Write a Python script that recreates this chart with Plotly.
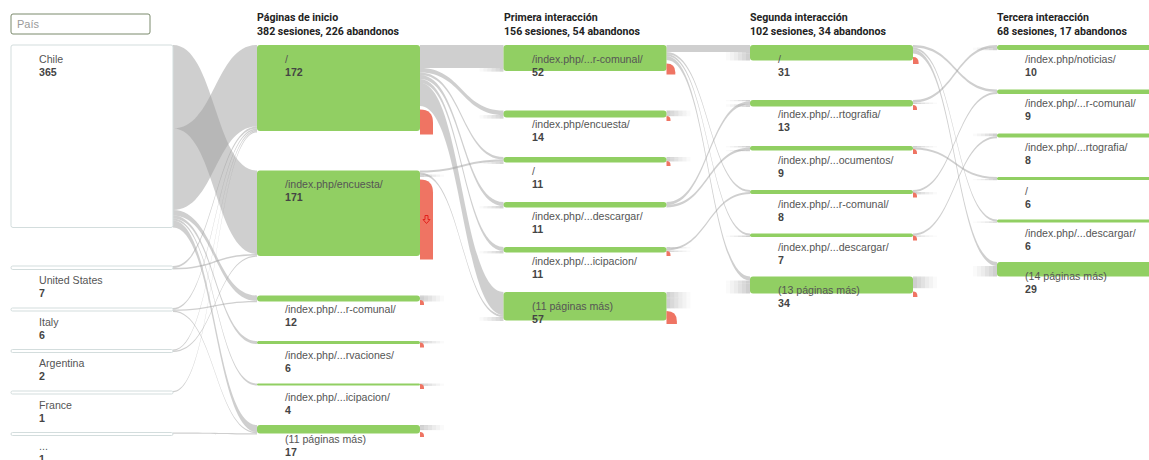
import plotly.graph_objects as go

# ---- data ----
col_titles = ["Páginas de inicio", "Primera interacción", "Segunda interacción", "Tercera interacción"]

country_names = ["Chile", "United States", "Italy", "Argentina", "France", "..."]
country_sessions = [365, 7, 6, 2, 1, 1]

start_pages = ["/", "/index.php/encuesta/", "/index.php/...r-comunal/", "/index.php/...rvaciones/",
               "/index.php/...icipacion/", "(11 páginas más)"]
start_sessions = [172, 171, 12, 6, 4, 17]
start_drops = [50, 160, 3, 2, 2, 9]

first_pages = ["/index.php/...r-comunal/", "/index.php/encuesta/", "/", "/index.php/...descargar/",
               "/index.php/...icipacion/", "(11 páginas más)"]
first_sessions = [52, 14, 11, 11, 11, 57]
first_drops = [22, 3, 2, 0, 1, 26]

second_pages = ["/", "/index.php/...rtografia/", "/index.php/...ocumentos/", "/index.php/...r-comunal/",
                "/index.php/...descargar/", "(13 páginas más)"]
second_sessions = [31, 13, 9, 8, 7, 34]
second_drops = [14, 5, 2, 1, 1, 11]

third_pages = ["/index.php/noticias/", "/index.php/...r-comunal/", "/index.php/...rtografia/", "/",
               "/index.php/...descargar/", "(14 páginas más)"]
third_sessions = [10, 9, 8, 6, 6, 29]
third_drops = [2, 3, 2, 1, 2, 7]

# links between consecutive columns (source index, target index, sessions)
links_0_src = [0, 0, 0, 0, 0, 0, 1, 1, 2, 2, 2, 3, 3, 4, 5]
links_0_tgt = [1, 0, 2, 3, 4, 5, 0, 1, 0, 2, 5, 0, 1, 0, 5]
links_0_val = [167, 163, 11, 6, 4, 14, 4, 3, 3, 1, 2, 1, 1, 1, 1]

links_1_src = [0, 0, 0, 0, 0, 0, 1, 1, 1, 1, 2, 2, 2, 2, 2, 3, 3, 4, 4, 5, 5, 5, 5]
links_1_tgt = [0, 1, 2, 3, 4, 5, 2, 5, 0, 1, 0, 5, 3, 4, 2, 5, 1, 4, 3, 0, 1, 2, 5]
links_1_val = [46, 9, 5, 8, 8, 46, 4, 4, 2, 1, 2, 2, 2, 2, 1, 2, 2, 1, 1, 2, 2, 1, 3]

links_2_src = [0, 0, 0, 0, 1, 1, 1, 1, 2, 2, 2, 3, 3, 4, 4, 4, 5, 5, 5, 5]
links_2_tgt = [0, 3, 4, 5, 0, 1, 4, 5, 0, 2, 5, 1, 2, 1, 3, 5, 0, 1, 2, 5]
links_2_val = [14, 4, 4, 8, 3, 2, 3, 3, 3, 3, 3, 6, 5, 3, 4, 3, 11, 2, 1, 17]

links_3_src = [0, 0, 0, 1, 1, 2, 2, 3, 3, 3, 4, 4, 5, 5]
links_3_tgt = [1, 4, 5, 0, 2, 0, 3, 1, 2, 4, 2, 3, 0, 5]
links_3_val = [5, 4, 8, 5, 3, 3, 4, 4, 1, 2, 4, 2, 2, 21]

# ---- layout ----
W, H = 1149, 460
SCALE = 0.5
TOP = 45
col_x = [11, 257, 503.5, 750, 997]
node_w = [162, 163, 163, 163, 163]
GREEN = "#91cf63"
RED = "#ef7463"
LINK = "rgba(160,160,160,0.5)"

labels = [country_names, start_pages, first_pages, second_pages, third_pages]
values = [country_sessions, start_sessions, first_sessions, second_sessions, third_sessions]
drops = [None, start_drops, first_drops, second_drops, third_drops]
links = [(links_0_src, links_0_tgt, links_0_val), (links_1_src, links_1_tgt, links_1_val),
         (links_2_src, links_2_tgt, links_2_val), (links_3_src, links_3_tgt, links_3_val)]


def stack(vals, minh, gap):
    tops, hs = [], []
    y = TOP
    for v in vals:
        h = max(v * SCALE, minh)
        tops.append(y)
        hs.append(h)
        y += h + gap
    return tops, hs


def rrect(x0, y0, x1, y1, r):
    r = min(r, (x1 - x0) / 2, (y1 - y0) / 2)
    return (f"M{x0 + r},{y0} L{x1 - r},{y0} Q{x1},{y0} {x1},{y0 + r} L{x1},{y1 - r} "
            f"Q{x1},{y1} {x1 - r},{y1} L{x0 + r},{y1} Q{x0},{y1} {x0},{y1 - r} "
            f"L{x0},{y0 + r} Q{x0},{y0} {x0 + r},{y0} Z")


layout_cols = []
for c in range(5):
    if c == 0:
        layout_cols.append(stack(values[c], 3, 38.5))
    else:
        layout_cols.append(stack(values[c], 2, 39.5))

shapes = []
annotations = []
fade = [0.5, 0.4, 0.3, 0.2, 0.12, 0.05]

# links
for s, (src, tgt, val) in enumerate(links):
    tops_s, _ = layout_cols[s]
    tops_t, _ = layout_cols[s + 1]
    xs = col_x[s] + node_w[s]
    xt = col_x[s + 1]
    xm = (xs + xt) / 2
    out_cur = list(tops_s)
    widths = [max(v * SCALE, 1.2) for v in val]
    src_pos = []
    for i in range(len(val)):
        src_pos.append(out_cur[src[i]])
        out_cur[src[i]] += widths[i]
    in_cur = list(tops_t)
    tgt_pos = [0] * len(val)
    for i in sorted(range(len(val)), key=lambda k: (src[k], k)):
        tgt_pos[i] = in_cur[tgt[i]]
        in_cur[tgt[i]] += widths[i]
    last = len(values[s]) - 1
    for i in range(len(val)):
        a0, a1 = src_pos[i], src_pos[i] + widths[i]
        b0, b1 = tgt_pos[i], tgt_pos[i] + widths[i]
        faded = s >= 1 and (val[i] <= 3 or src[i] == last)
        if faded:
            for k, op in enumerate(fade):
                shapes.append(dict(type="rect", xref="x", yref="y", x0=xs + k * 4, x1=xs + (k + 1) * 4,
                                   y0=a0, y1=a1, fillcolor=f"rgba(160,160,160,{op})", line_width=0))
                shapes.append(dict(type="rect", xref="x", yref="y", x0=xt - (k + 1) * 4, x1=xt - k * 4,
                                   y0=b0, y1=b1, fillcolor=f"rgba(160,160,160,{op})", line_width=0))
        else:
            path = (f"M{xs},{a0} C{xm},{a0} {xm},{b0} {xt},{b0} L{xt},{b1} "
                    f"C{xm},{b1} {xm},{a1} {xs},{a1} Z")
            shapes.append(dict(type="path", xref="x", yref="y", path=path, fillcolor=LINK, line_width=0))

# nodes
for c in range(5):
    tops, hs = layout_cols[c]
    x0 = col_x[c]
    x1 = x0 + node_w[c]
    for i, (t, h) in enumerate(zip(tops, hs)):
        if c == 0:
            shapes.append(dict(type="path", xref="x", yref="y", path=rrect(x0, t, x1, t + h, 2),
                               fillcolor="white", line=dict(color="#d3dddd", width=1)))
        else:
            shapes.append(dict(type="path", xref="x", yref="y", path=rrect(x0, t, x1, t + h, 3),
                               fillcolor=GREEN, line_width=0))
            d = drops[c][i]
            if d > 0:
                dh = max(d * SCALE, 5)
                dw = min(13, dh * 0.8)
                yb = t + h + 3.5
                yt = yb - dh
                r = min(dw, dh)
                path = (f"M{x1},{yb} L{x1},{yt} Q{x1 + dw},{yt} {x1 + dw},{yt + r} "
                        f"L{x1 + dw},{yb} Z")
                shapes.append(dict(type="path", xref="x", yref="y", path=path, fillcolor=RED, line_width=0))
                if dh > 40:
                    # small outlined down arrow on the big exit bar
                    cx, cy = x1 + dw / 2, (yt + yb) / 2
                    arrow = (f"M{cx - 1.5},{cy - 4} L{cx + 1.5},{cy - 4} L{cx + 1.5},{cy} L{cx + 3.5},{cy} "
                             f"L{cx},{cy + 4} L{cx - 3.5},{cy} L{cx - 1.5},{cy} Z")
                    shapes.append(dict(type="path", xref="x", yref="y", path=arrow, fillcolor="rgba(0,0,0,0)",
                                       line=dict(color="#e3211c", width=1)))
        lx = x0 + 26
        annotations.append(dict(x=lx, y=t + 13.5, xref="x", yref="y", text=labels[c][i], showarrow=False,
                                xanchor="left", yanchor="middle",
                                font=dict(family="Arial", size=10.6, color="#555555")))
        annotations.append(dict(x=lx, y=t + 26.5, xref="x", yref="y", text=f"<b>{values[c][i]}</b>",
                                showarrow=False, xanchor="left", yanchor="middle",
                                font=dict(family="Arial", size=10.6, color="#444444")))

# column headers
for c in range(1, 5):
    annotations.append(dict(x=col_x[c] - 2, y=17, xref="x", yref="y", text=f"<b>{col_titles[c - 1]}</b>",
                            showarrow=False, xanchor="left", yanchor="middle",
                            font=dict(family="Roboto", size=10.6, color="#222222")))
    sub = f"<b>{sum(values[c])} sesiones, {sum(drops[c])} abandonos</b>"
    annotations.append(dict(x=col_x[c] - 2, y=31, xref="x", yref="y", text=sub, showarrow=False,
                            xanchor="left", yanchor="middle",
                            font=dict(family="Roboto", size=10.6, color="#222222")))

# search box
shapes.append(dict(type="path", xref="x", yref="y", path=rrect(11, 14, 150, 34, 2),
                   fillcolor="white", line=dict(color="#7b8a6c", width=1)))
annotations.append(dict(x=15, y=24, xref="x", yref="y", text="País", showarrow=False,
                        xanchor="left", yanchor="middle", font=dict(family="Arial", size=11, color="#9a9a9a")))

fig = go.Figure()
fig.update_layout(
    width=W, height=H,
    margin=dict(l=0, r=0, t=0, b=0),
    paper_bgcolor="white", plot_bgcolor="white",
    xaxis=dict(range=[0, W], visible=False, fixedrange=True),
    yaxis=dict(range=[H, 0], visible=False, fixedrange=True),
    shapes=shapes,
    annotations=annotations,
    showlegend=False,
)
fig.write_html("out.html", config={"displayModeBar": False},
               post_script="document.body.style.margin='0';")
